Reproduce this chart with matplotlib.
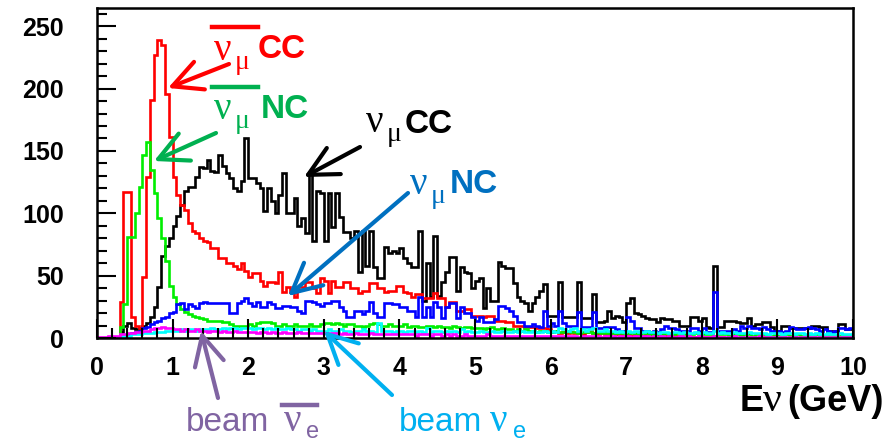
import numpy as np
import matplotlib
matplotlib.use("Agg")
import matplotlib.pyplot as plt
from matplotlib.lines import Line2D
from matplotlib.ticker import MultipleLocator

# ---------------- data (events per 0.05 GeV bin, 0-10 GeV) ----------------
E_MIN, E_MAX, N_BINS = 0.0, 10.0, 200

numubar_cc = [
    0, 0, 0, 0, 0, 0, 29, 117, 117, 17, 10, 8, 49, 129, 191, 227, 239, 235, 196, 161,
    129, 115, 107, 103, 92, 86, 84, 80, 78, 77, 72, 72, 64, 64, 60, 60, 58, 55, 60, 54,
    49, 52, 52, 46, 42, 45, 45, 44, 53, 37, 41, 37, 33, 41, 41, 45, 45, 40, 36, 48,
    46, 36, 46, 41, 41, 45, 45, 40, 40, 36, 38, 38, 44, 44, 40, 40, 37, 38, 38, 42,
    42, 37, 36, 33, 35, 35, 32, 32, 32, 36, 32, 32, 25, 29, 29, 22, 22, 23, 23, 18,
    18, 18, 17, 18, 18, 14, 14, 14, 13, 13, 10, 10, 10, 9, 9, 9, 8, 8, 8, 7,
    5, 6, 4, 5, 4, 5, 4, 4, 3, 5, 6, 4, 3, 4, 3, 3, 4, 3, 3, 2,
    3, 2, 3, 2, 2, 3, 2, 2, 2, 1, 2, 2, 1, 2, 1, 1, 2, 1, 1, 1,
    1, 1, 1, 0, 1, 1, 0, 1, 1, 0, 1, 0, 1, 1, 0, 0, 1, 0, 0, 1,
    0, 1, 0, 0, 1, 0, 0, 0, 1, 0, 0, 0, 1, 0, 0, 0, 0, 1, 0, 0,
]

numubar_nc = [
    0, 0, 0, 0, 0, 1, 9, 27, 81, 81, 100, 121, 147, 157, 135, 116, 96, 80, 62, 42,
    33, 27, 23, 21, 19, 18, 17, 16, 15, 14, 14, 14, 14, 13, 13, 11, 10, 10, 10, 10,
    11, 10, 12, 13, 13, 13, 12, 10, 10, 11, 10, 10, 11, 10, 10, 10, 11, 10, 10, 11,
    12, 12, 11, 12, 11, 10, 11, 11, 10, 10, 9, 10, 11, 12, 11, 10, 10, 11, 10, 10,
    10, 11, 9, 10, 10, 9, 9, 10, 10, 9, 10, 9, 9, 8, 10, 9, 8, 9, 9, 8,
    8, 8, 7, 8, 9, 7, 7, 8, 7, 7, 6, 7, 6, 7, 6, 6, 5, 6, 6, 5,
    5, 6, 5, 5, 6, 5, 5, 4, 5, 5, 5, 4, 5, 4, 5, 4, 4, 4, 5, 4,
    4, 4, 4, 3, 4, 4, 3, 4, 3, 3, 4, 3, 3, 4, 3, 3, 3, 3, 4, 3,
    3, 3, 3, 2, 3, 3, 3, 2, 3, 3, 2, 3, 3, 2, 3, 2, 3, 2, 2, 3,
    2, 2, 3, 2, 2, 3, 2, 2, 2, 2, 3, 2, 2, 2, 2, 2, 2, 2, 2, 2,
]

numu_cc = [
    0, 0, 0, 0, 0, 1, 5, 10, 12, 8, 7, 8, 10, 12, 17, 25, 41, 66, 74, 80,
    90, 98, 107, 118, 121, 121, 129, 137, 136, 143, 134, 133, 147, 138, 132, 128, 120, 118, 126, 160,
    128, 128, 124, 120, 102, 120, 110, 100, 115, 132, 100, 100, 112, 90, 96, 84, 133, 78, 118, 116,
    78, 116, 89, 116, 97, 85, 85, 80, 86, 53, 86, 58, 86, 57, 48, 48, 73, 68, 70, 68,
    72, 64, 60, 57, 57, 86, 30, 60, 33, 82, 34, 45, 53, 65, 65, 38, 57, 53, 52, 40,
    46, 48, 24, 40, 30, 30, 61, 58, 56, 56, 44, 33, 30, 28, 22, 28, 33, 38, 43, 18,
    18, 18, 45, 17, 17, 17, 17, 45, 16, 16, 16, 35, 13, 13, 14, 22, 16, 18, 17, 13,
    28, 32, 20, 19, 18, 16, 15, 15, 13, 16, 15, 15, 14, 14, 10, 10, 10, 17, 17, 14,
    16, 9, 8, 58, 9, 9, 14, 14, 14, 13, 12, 12, 16, 10, 11, 11, 13, 13, 9, 6,
    6, 10, 10, 8, 8, 8, 8, 8, 8, 10, 10, 9, 9, 6, 6, 6, 11, 11, 7, 7,
]

numu_nc = [
    0, 0, 0, 0, 0, 0, 1, 2, 3, 4, 5, 6, 8, 9, 11, 13, 14, 16, 17, 20,
    21, 27, 28, 23, 27, 26, 24, 28, 29, 28, 28, 28, 28, 28, 28, 20, 20, 28, 30, 32,
    28, 26, 29, 25, 25, 29, 27, 24, 24, 26, 26, 25, 25, 22, 20, 30, 30, 29, 27, 26,
    28, 28, 30, 30, 25, 22, 17, 17, 22, 22, 19, 22, 29, 20, 17, 17, 28, 28, 27, 27,
    25, 25, 22, 22, 17, 33, 17, 25, 17, 29, 25, 16, 25, 28, 28, 16, 25, 20, 20, 17,
    14, 17, 13, 13, 13, 15, 26, 26, 24, 22, 18, 13, 13, 10, 10, 11, 10, 9, 22, 10,
    12, 10, 22, 12, 10, 10, 10, 21, 9, 9, 9, 21, 8, 8, 9, 9, 9, 7, 6, 6,
    17, 14, 8, 8, 6, 6, 5, 6, 5, 7, 10, 8, 8, 7, 6, 6, 6, 8, 8, 6,
    8, 5, 5, 37, 6, 6, 6, 6, 7, 6, 10, 8, 10, 8, 8, 7, 9, 7, 6, 6,
    6, 5, 6, 9, 8, 7, 7, 8, 9, 8, 7, 6, 7, 6, 5, 6, 8, 8, 7, 8,
]

beam_nue = [
    0, 0, 0, 0, 1, 1, 1, 2, 2, 3, 3, 3, 4, 4, 4, 5, 5, 5, 6, 6,
    6, 6, 7, 6, 7, 7, 6, 7, 7, 7, 8, 7, 7, 8, 7, 8, 8, 7, 8, 8,
    8, 7, 8, 8, 7, 8, 7, 8, 7, 7, 8, 7, 7, 6, 7, 7, 6, 7, 6, 6,
    6, 7, 6, 6, 7, 6, 6, 5, 6, 6, 7, 6, 6, 5, 12, 6, 6, 6, 5, 6,
    6, 5, 6, 6, 5, 6, 5, 8, 5, 6, 6, 5, 6, 5, 6, 5, 7, 5, 6, 5,
    5, 6, 5, 5, 6, 5, 5, 6, 5, 5, 6, 5, 6, 5, 5, 6, 5, 5, 6, 5,
    6, 5, 8, 7, 6, 7, 8, 6, 7, 6, 7, 8, 6, 6, 7, 6, 6, 5, 6, 5,
    6, 5, 6, 5, 5, 6, 5, 5, 4, 5, 5, 4, 5, 5, 4, 5, 4, 4, 5, 4,
    5, 4, 4, 6, 4, 5, 4, 4, 5, 4, 4, 4, 5, 4, 4, 4, 4, 3, 4, 4,
    4, 3, 4, 4, 3, 4, 4, 3, 4, 3, 4, 3, 3, 4, 3, 3, 4, 3, 3, 3,
]

beam_nuebar = [
    1, 1, 1, 2, 2, 2, 3, 3, 4, 4, 5, 5, 6, 6, 7, 8, 8, 9, 8, 8,
    7, 7, 6, 7, 6, 6, 7, 6, 6, 5, 6, 6, 5, 6, 5, 5, 6, 5, 5, 5,
    5, 5, 4, 5, 5, 4, 5, 4, 4, 5, 4, 4, 4, 5, 4, 4, 4, 4, 4, 4,
    4, 3, 4, 4, 3, 4, 3, 3, 4, 3, 3, 3, 4, 3, 3, 3, 3, 3, 3, 3,
    3, 3, 3, 3, 2, 3, 3, 3, 2, 3, 3, 2, 3, 2, 3, 2, 2, 3, 2, 2,
    2, 2, 2, 3, 2, 2, 2, 2, 2, 2, 2, 2, 2, 2, 2, 2, 2, 2, 2, 2,
    2, 2, 2, 2, 2, 2, 2, 1, 2, 2, 2, 2, 2, 1, 2, 2, 2, 1, 2, 2,
    2, 1, 2, 1, 2, 2, 1, 2, 1, 2, 1, 2, 1, 1, 2, 1, 2, 1, 1, 2,
    1, 1, 1, 2, 1, 1, 1, 1, 2, 1, 1, 1, 1, 1, 1, 2, 1, 1, 1, 1,
    1, 1, 1, 1, 1, 1, 1, 1, 1, 1, 1, 1, 1, 1, 1, 1, 1, 1, 1, 1,
]

x_ticks = [0, 1, 2, 3, 4, 5, 6, 7, 8, 9, 10]
y_ticks = [0, 50, 100, 150, 200, 250]

# ---------------- figure ----------------
W, H = 896, 443
fig = plt.figure(figsize=(W / 100, H / 100), dpi=100)
fig.patch.set_facecolor("white")


def fx(x):
    return x / W


def fy(y):
    return 1 - y / H


ax = fig.add_axes([fx(97), fy(338), (853 - 97) / W, (338 - 7.5) / H])
edges = np.linspace(E_MIN, E_MAX, N_BINS + 1)

lw = 1.9
series = [
    (numu_cc, "black"),
    (numubar_cc, "#ff0000"),
    (numubar_nc, "#00ee00"),
    (numu_nc, "#0000ff"),
    (beam_nue, "#00ffff"),
    (beam_nuebar, "#ff00ff"),
]
for vals, col in series:
    ax.stairs(vals, edges, color=col, lw=lw, baseline=0)

ax.set_xlim(E_MIN, E_MAX)
ax.set_ylim(0, 265)
ax.set_xticks(x_ticks)
ax.set_xticklabels([str(t) for t in x_ticks], fontweight="bold",
                   fontsize=18, family="Liberation Sans")
ax.set_yticks(y_ticks)
ax.set_yticklabels([str(t) for t in y_ticks], fontweight="bold",
                   fontsize=18, family="Liberation Sans")
ax.xaxis.set_minor_locator(MultipleLocator(0.2))
ax.yaxis.set_minor_locator(MultipleLocator(10))
ax.tick_params(axis="both", which="major", direction="in", length=14, width=1.5)
ax.tick_params(axis="both", which="minor", direction="in", length=7, width=1.5)
ax.tick_params(axis="y", which="major", pad=24)
ax.tick_params(axis="x", which="major", pad=13)
for s in ax.spines.values():
    s.set_linewidth(1.8)

# ---------------- labels ----------------
SERIF = "Liberation Serif"
SANS = "Liberation Sans"


def nu_label(x_nu, base, sub, sub_dx, sub_dy, col, bar, word, word_x, word_base):
    fig.text(fx(x_nu), fy(base), "ν", family=SERIF, fontsize=28, color=col,
             ha="left", va="baseline")
    fig.text(fx(x_nu + sub_dx), fy(base + sub_dy), sub, family=SERIF, fontsize=20,
             color=col, ha="left", va="baseline")
    if bar is not None:
        x0, x1, yb = bar
        fig.add_artist(Line2D([fx(x0), fx(x1)], [fy(yb), fy(yb)],
                              transform=fig.transFigure, color=col, lw=3.2))
    fig.text(fx(word_x), fy(word_base), word, family=SANS, fontsize=24,
             fontweight="bold", color=col, ha="left", va="baseline")


def arrow(x0, y0, x1, y1, col):
    ax.annotate("", xy=(fx(x1), fy(y1)), xytext=(fx(x0), fy(y0)),
                xycoords="figure fraction", textcoords="figure fraction",
                arrowprops=dict(arrowstyle="->,head_length=0.75,head_width=0.38",
                                color=col, lw=3, shrinkA=0, shrinkB=0,
                                mutation_scale=28),
                annotation_clip=False)


RED, GREEN, BLK, BLUE = "#ff0000", "#00b050", "black", "#0070c0"
PURPLE, CYAN = "#8064a2", "#00b0f0"

nu_label(214, 60, "μ", 21, 9, RED, (212, 258, 27), "CC", 258, 58)
arrow(229, 64, 168, 88, RED)

nu_label(214, 119, "μ", 21, 9, GREEN, (212, 258, 87), "NC", 261, 118)
arrow(216, 133, 154, 161, GREEN)

nu_label(366, 132, "μ", 21, 9, BLK, None, "CC", 405, 133)
arrow(360, 147, 304, 177, BLK)

nu_label(410, 194, "μ", 21, 9, BLUE, None, "NC", 450, 193)
arrow(408, 193, 288, 296, BLUE)

# beam anti-nu_e (purple)
fig.text(fx(186), fy(431), "beam", family=SANS, fontsize=24, color=PURPLE,
         ha="left", va="baseline")
fig.text(fx(284), fy(431), "ν", family=SERIF, fontsize=28, color=PURPLE,
         ha="left", va="baseline")
fig.text(fx(306), fy(438), "e", family=SANS, fontsize=17, color=PURPLE,
         ha="left", va="baseline")
fig.add_artist(Line2D([fx(282), fx(317)], [fy(405), fy(405)],
                      transform=fig.transFigure, color=PURPLE, lw=3.2))
arrow(218, 398, 201, 331, PURPLE)

# beam nu_e (cyan)
fig.text(fx(399), fy(431), "beam", family=SANS, fontsize=24, color=CYAN,
         ha="left", va="baseline")
fig.text(fx(490), fy(431), "ν", family=SERIF, fontsize=28, color=CYAN,
         ha="left", va="baseline")
fig.text(fx(513), fy(438), "e", family=SANS, fontsize=17, color=CYAN,
         ha="left", va="baseline")
arrow(392, 395, 324, 331, CYAN)

# axis title
fig.text(fx(740), fy(411), "E", family=SANS, fontsize=26, fontweight="bold",
         color="black", ha="left", va="baseline")
fig.text(fx(763), fy(411), "ν", family=SERIF, fontsize=30, color="black",
         ha="left", va="baseline")
fig.text(fx(787), fy(411), "(GeV)", family=SANS, fontsize=26, fontweight="bold",
         color="black", ha="left", va="baseline")

fig.savefig("out.png", dpi=100, facecolor="white")
